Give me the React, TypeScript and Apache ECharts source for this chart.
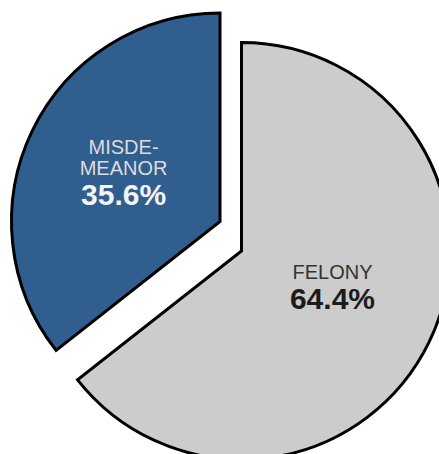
import React, { useEffect, useRef } from "react";
import * as echarts from "echarts";

const categories = ["FELONY", "MISDEMEANOR"];
const labelTexts = ["FELONY", "MISDE-\nMEANOR"];
const values = [64.4, 35.6];
const fills = ["#cccccc", "#305e8f"];
const nameColors = ["#333333", "#dcdcdc"];
const pctColors = ["#1c1c1c", "#f4f4f4"];
// padding used to nudge each inside label: [top, right, bottom, left]
const labelPads = [
  [0, 11, 20, 0],
  [0, 0, 3, 0],
];

const FONT = "'Liberation Sans', Arial, Helvetica, sans-serif";

function buildSeries(visibleIndex: number, center: [number, number]) {
  return {
    type: "pie",
    center,
    radius: 208.5,
    startAngle: 90,
    clockwise: true,
    silent: true,
    emphasis: { disabled: true },
    labelLine: { show: false },
    data: categories.map((c, i) => {
      const visible = i === visibleIndex;
      return {
        name: c,
        value: values[i],
        itemStyle: visible
          ? { color: fills[i], borderColor: "#000000", borderWidth: 3, borderJoin: "miter" }
          : { color: "transparent", borderWidth: 0 },
        label: visible
          ? {
              show: true,
              position: "inside",
              padding: labelPads[i],
              formatter: () =>
                labelTexts[i]
                  .split("\n")
                  .map((t) => `{n|${t}}`)
                  .join("\n") + `\n{p|${values[i].toFixed(1)}%}`,
              rich: {
                n: { fontFamily: FONT, fontSize: 20, lineHeight: 21, color: nameColors[i] },
                p: { fontFamily: FONT, fontSize: 30, fontWeight: "bold", lineHeight: 32, color: pctColors[i] },
              },
            }
          : { show: false },
      };
    }),
  };
}

export default function App() {
  const ref = useRef<HTMLDivElement>(null);
  useEffect(() => {
    if (!ref.current) return;
    const chart = echarts.init(ref.current, undefined, { renderer: "svg" });
    chart.setOption({
      animation: false,
      backgroundColor: "#ffffff",
      series: [buildSeries(0, [241.5, 251]), buildSeries(1, [220, 221.5])],
    });
    return () => chart.dispose();
  }, []);
  return (
    <div
      ref={ref}
      style={{ position: "fixed", left: 0, top: 0, width: 439, height: 454, background: "#fff" }}
    />
  );
}
